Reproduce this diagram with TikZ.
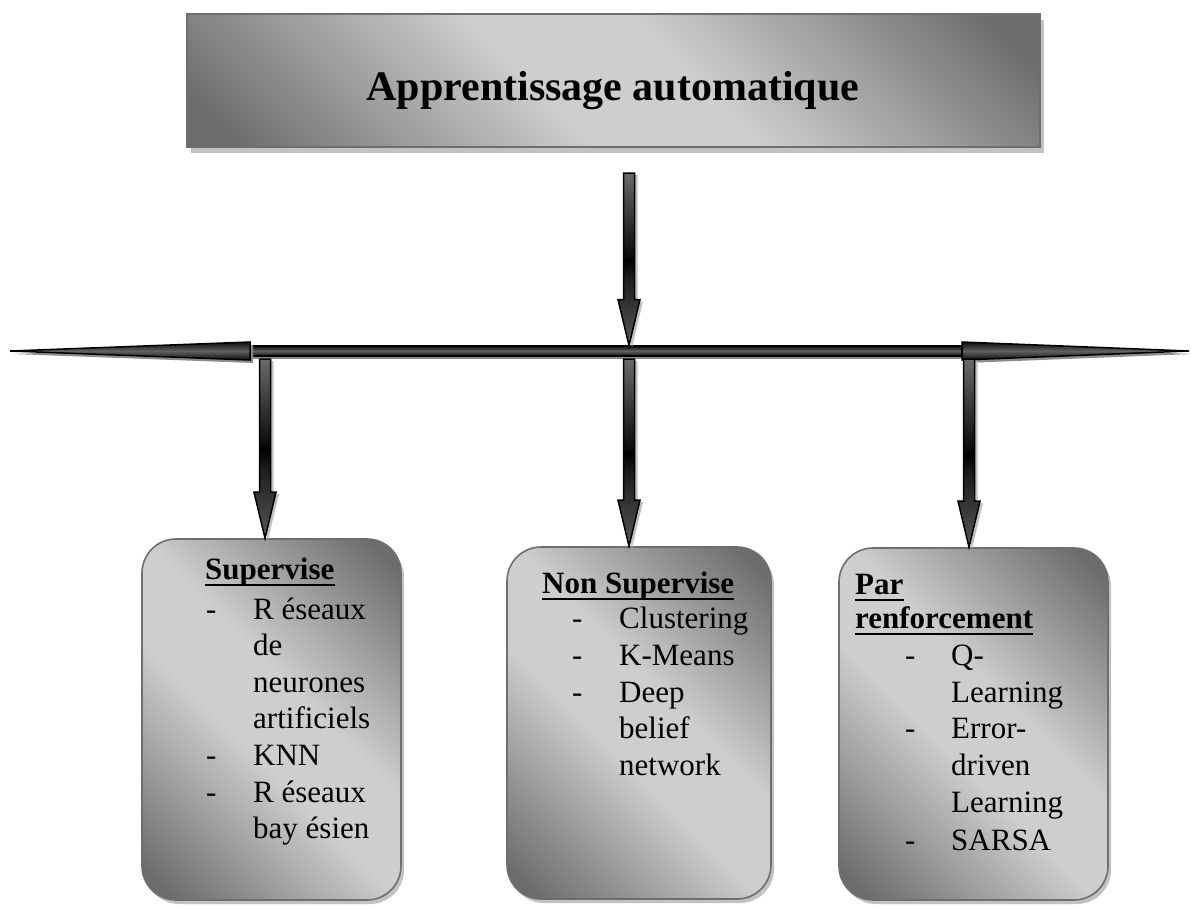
\documentclass[tikz,border=0pt]{standalone}
\usepackage{fontspec}
\setmainfont{Liberation Serif}
\usetikzlibrary{calc,shadows}

\definecolor{mdark}{HTML}{6C6C6C}
\definecolor{mlight}{HTML}{CECECE}
\definecolor{shaftlight}{HTML}{6A6A6A}
\definecolor{shafttip}{HTML}{575757}
\definecolor{shadowgray}{HTML}{C2C2C2}
\definecolor{edgegray}{HTML}{6E6E6E}

% brushed-metal fill: dark corners, light diagonal band
\pgfdeclarehorizontalshading{metal}{100bp}{color(0bp)=(mdark); color(18bp)=(mdark); color(44bp)=(mlight); color(56bp)=(mlight); color(82bp)=(mdark); color(100bp)=(mdark)}
% block arrow fill: grey top, black band, grey head
\pgfdeclareverticalshading{shaft}{100bp}{color(0bp)=(shafttip); color(25bp)=(shafttip); color(44bp)=(black!88); color(50bp)=(black); color(51bp)=(black!96); color(75bp)=(shaftlight); color(100bp)=(shaftlight)}
% horizontal rod fill: black edges, grey centre stripe
\pgfdeclareverticalshading{rod}{100bp}{color(0bp)=(black); color(25bp)=(black!95); color(50bp)=(black!62); color(75bp)=(black!95); color(100bp)=(black)}

\tikzset{
  banner/.style={draw=edgegray, line width=2pt, shading=metal, shading angle=45, inner sep=0pt,
    drop shadow={shadow xshift=4pt, shadow yshift=-6pt, fill=shadowgray, opacity=1}},
  panel/.style={draw=edgegray, line width=1.6pt, rounded corners=34pt, shading=metal, shading angle=45, inner sep=0pt,
    drop shadow={shadow xshift=3pt, shadow yshift=-4pt, fill=shadowgray, opacity=1}},
  blockarrow/.style={draw=black, line width=1.5pt, shading=shaft,
    drop shadow={shadow xshift=3pt, shadow yshift=-2pt, fill=shadowgray, opacity=1}},
  rodstyle/.style={draw=black, line width=1.5pt, shading=rod,
    drop shadow={shadow xshift=3pt, shadow yshift=-3pt, fill=black!45, opacity=1}},
  item/.style={anchor=base west, inner sep=0pt, font=\fontsize{31}{37}\selectfont},
  heading/.style={anchor=base west, inner sep=0pt, font=\fontsize{31}{37}\selectfont\bfseries},
  ul/.style={line width=2pt},
}

% fat downward arrow from #1 to the tip level of #2
\newcommand\blockdown[2]{%
  \path[blockarrow] let \p1=(#1), \p2=(#2) in
    (\x1-5.5pt,\y1) -- (\x1-5.5pt,\y2+46pt) -- (\x1-11pt,\y2+46pt) -- (\x1,\y2)
    -- (\x1+11pt,\y2+46pt) -- (\x1+5.5pt,\y2+46pt) -- (\x1+5.5pt,\y1) -- cycle;}

\begin{document}
\begin{tikzpicture}[x=1pt,y=-1pt]
\useasboundingbox (0,0) rectangle (1191,908);

% title banner
\node[banner, minimum width=853pt, minimum height=133pt] (title) at (613.5,80.5) {};
\node[anchor=base, inner sep=0pt, font=\fontsize{42}{50}\selectfont\bfseries] (titletext) at (613,100) {Apprentissage automatique};

% category panels
\node[panel, minimum width=259pt, minimum height=361pt] (box1) at (271.5,719.5) {};
\node[panel, minimum width=264pt, minimum height=352pt] (box2) at (639,723) {};
\node[panel, minimum width=269pt, minimum height=352pt] (box3) at (973.5,724) {};

% distribution bar
\coordinate (tipL) at (10,351);
\coordinate (tipR) at (1189,351);
\coordinate (baseL) at (250,351);
\coordinate (baseR) at (962,351);
\path[rodstyle] ($(baseL)+(0,-5)$) rectangle ($(baseR)+(0,5)$);
\path[rodstyle] ($(baseL)+(0,-9)$) -- (tipL) -- ($(baseL)+(0,9)$) -- cycle;
\path[rodstyle] ($(baseR)+(0,-9)$) -- (tipR) -- ($(baseR)+(0,9)$) -- cycle;

% arrows
\coordinate (src) at (629,173);
\coordinate (hub) at (629,345.5);
\coordinate (s1) at (265,359);
\coordinate (s2) at (629,359);
\coordinate (s3) at (969,359);
\blockdown{src}{hub}
\blockdown{s1}{box1.north}
\blockdown{s2}{box2.north}
\blockdown{s3}{box3.north}

% panel 1
\node[heading] (h1) at (205,579) {Supervise};
\draw[ul] ($(h1.base west)+(0,6)$) -- ($(h1.base east)+(0,6)$);
\node[item] (d11) at (206,619) {-};
\node[item] (l11) at (253,619) {R éseaux};
\node[item] (l12) at (253,655) {de};
\node[item] (l13) at (253,692) {neurones};
\node[item] (l14) at (253,728) {artificiels};
\node[item] (d12) at (206,765) {-};
\node[item] (l15) at (253,765) {KNN};
\node[item] (d13) at (206,802) {-};
\node[item] (l16) at (253,802) {R éseaux};
\node[item] (l17) at (253,838) {bay ésien};

% panel 2
\node[heading] (h2) at (542,593) {Non Supervise};
\draw[ul] ($(h2.base west)+(0,6)$) -- ($(h2.base east)+(0,6)$);
\node[item] (d21) at (572,628) {-};
\node[item] (l21) at (619,628) {Clustering};
\node[item] (d22) at (572,665) {-};
\node[item] (l22) at (619,665) {K-Means};
\node[item] (d23) at (572,702) {-};
\node[item] (l23) at (619,702) {Deep};
\node[item] (l24) at (619,738) {belief};
\node[item] (l25) at (619,775) {network};

% panel 3
\node[heading] (h3a) at (855,594) {Par};
\draw[ul] ($(h3a.base west)+(0,6)$) -- ($(h3a.base east)+(0,6)$);
\node[heading] (h3b) at (855,628) {renforcement};
\draw[ul] ($(h3b.base west)+(0,6)$) -- ($(h3b.base east)+(0,6)$);
\node[item] (d31) at (905,665) {-};
\node[item] (l31) at (951,665) {Q-};
\node[item] (l32) at (951,702) {Learning};
\node[item] (d32) at (905,738) {-};
\node[item] (l33) at (951,738) {Error-};
\node[item] (l34) at (951,775) {driven};
\node[item] (l35) at (951,812) {Learning};
\node[item] (d33) at (905,850) {-};
\node[item] (l36) at (951,850) {SARSA};
\end{tikzpicture}
\end{document}
